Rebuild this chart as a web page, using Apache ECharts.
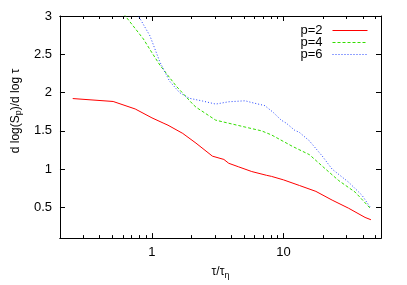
<!DOCTYPE html>
<html><head><meta charset="utf-8">
<script src="https://cdn.jsdelivr.net/npm/echarts@6/dist/echarts.min.js"></script>
<style>html,body{margin:0;padding:0;background:#fff}#c{width:407px;height:285px}</style>
</head><body><div id="c"></div>
<script>
// tau/tau_eta values and d log(S_p)/d log tau values
var tauP2 = [0.25, 0.507, 0.746, 1.0, 1.215, 1.324, 1.714, 2.16, 2.88, 3.52, 3.83, 4.56, 5.73, 7.42, 8.09, 10.0, 13.2, 17.6, 23.4, 31.2, 41.6, 46.1];
var valP2 = [1.922, 1.884, 1.786, 1.67, 1.603, 1.574, 1.467, 1.34, 1.17, 1.127, 1.077, 1.03, 0.969, 0.92, 0.906, 0.86, 0.787, 0.71, 0.596, 0.49, 0.37, 0.34];

var tauP4 = [0.55, 0.628, 0.861, 1.0, 1.148, 1.53, 2.04, 2.16, 3.05, 3.83, 5.1, 6.81, 8.1, 11.7, 15.7, 20.9, 26.3, 35.0, 46.1];
var valP4 = [3.13, 3.0, 2.70, 2.52, 2.36, 2.084, 1.85, 1.81, 1.64, 1.60, 1.55, 1.50, 1.447, 1.297, 1.19, 1.0, 0.85, 0.70, 0.48];

var tauP6 = [0.70, 0.79, 0.966, 1.148, 1.36, 1.62, 1.92, 2.42, 3.05, 3.83, 5.1, 5.73, 7.2, 8.3, 9.6, 10.5, 12.1, 13.2, 15.7, 19.7, 23.4, 31.2, 39.4, 45.3];
var valP6 = [3.16, 3.0, 2.74, 2.40, 2.15, 2.0, 1.926, 1.89, 1.85, 1.88, 1.893, 1.87, 1.83, 1.745, 1.64, 1.60, 1.51, 1.48, 1.37, 1.17, 1.0, 0.83, 0.66, 0.51];

var seriesNames = ['p=2', 'p=4', 'p=6'];
var xMajorTicks = [1, 10];
var xMinorTicks = [0.3, 0.4, 0.5, 0.6, 0.7, 0.8, 0.9, 2, 3, 4, 5, 6, 7, 8, 9, 20, 30, 40, 50];
var yTicks = [0.5, 1, 1.5, 2, 2.5, 3];
var xRange = [0.2, 55];
var yRange = [0.1, 3];

function lg(v){ return Math.log(v) / Math.LN10; }
function pairs(t, v){ return t.map(function(x, i){ return [lg(x), v[i]]; }); }

var font = 'Liberation Sans, Arial, Helvetica, sans-serif';
var ax = {color: '#000', width: 1};
function xAx(pos, ticks, len, labels){
  return {
    type: 'value', position: pos, min: lg(xRange[0]), max: lg(xRange[1]),
    axisLine: {show: true, onZero: false, lineStyle: ax},
    splitLine: {show: false},
    axisTick: {show: true, inside: true, length: len, customValues: ticks.map(lg), lineStyle: ax},
    axisLabel: labels ? {show: true, customValues: ticks.map(lg), margin: 8, color: '#000', fontSize: 13, fontFamily: font,
      formatter: function(v){ return String(Math.round(Math.pow(10, v))); }} : {show: false}
  };
}
function yAx(pos, labels){
  return {
    type: 'value', position: pos, min: yRange[0], max: yRange[1],
    axisLine: {show: true, onZero: false, lineStyle: ax},
    splitLine: {show: false},
    axisTick: {show: true, inside: true, length: 5, customValues: yTicks, lineStyle: ax},
    axisLabel: labels ? {show: true, customValues: yTicks, margin: 8, color: '#000', fontSize: 13, fontFamily: font,
      formatter: function(v){ return String(v); }} : {show: false}
  };
}

var xAxes = [xAx('bottom', xMajorTicks, 5, true), xAx('bottom', xMinorTicks, 3, false),
             xAx('top', xMajorTicks, 5, false), xAx('top', xMinorTicks, 3, false)];
xAxes[0].name = '{n|τ/τ}{s|η}';
xAxes[0].nameLocation = 'middle';
xAxes[0].nameGap = 19;
xAxes[0].nameTextStyle = {color: '#000', fontFamily: font,
  rich: {n: {fontSize: 12, fontFamily: font, color: '#000', verticalAlign: 'top', lineHeight: 14},
         s: {fontSize: 9, fontFamily: font, color: '#000', verticalAlign: 'bottom', lineHeight: 14, padding: [7, 0, 0, 0]}}};

var yAxes = [yAx('left', true), yAx('right', false)];
yAxes[0].name = '{n|d log(S}{s|p}{n|)/d log τ}';
yAxes[0].nameLocation = 'middle';
yAxes[0].nameGap = 36;
yAxes[0].nameRotate = 90;
yAxes[0].nameTextStyle = {color: '#000', fontFamily: font, padding: [0, 0, 0, 32],
  rich: {n: {fontSize: 12, fontFamily: font, color: '#000', lineHeight: 14},
         s: {fontSize: 9, fontFamily: font, color: '#000', lineHeight: 14, padding: [6, 0, 0, 0]}}};

var colors = ['#ff0000', '#33dd00', '#2244ff'];
var dashes = ['solid', [3, 2], [1, 2]];

function ser(i, data){
  return {name: seriesNames[i], type: 'line', data: data, xAxisIndex: 0, yAxisIndex: 0, symbol: 'none', showSymbol: false,
    clip: true, animation: false, lineStyle: {color: colors[i], width: 1, type: dashes[i]}, itemStyle: {color: colors[i]}};
}

var chart = echarts.init(document.getElementById('c'), null, {renderer: 'canvas'});
chart.setOption({
  animation: false,
  backgroundColor: '#fff',
  grid: {left: 55, right: 26, top: 16, bottom: 41, containLabel: false},
  xAxis: xAxes,
  yAxis: yAxes,
  legend: {
    orient: 'vertical', right: 34, top: 19, align: 'right', itemWidth: 35, itemHeight: 8, itemGap: -1,
    textStyle: {fontSize: 13, fontFamily: font, color: '#000', padding: [0, 5, 0, 0]},
    data: seriesNames.map(function(n, i){
      return {name: n, itemStyle: {opacity: 0, color: 'rgba(0,0,0,0)', borderWidth: 0},
        lineStyle: {color: colors[i], width: 1, type: dashes[i], opacity: 1}};
    })
  },
  series: [
    ser(0, pairs(tauP2, valP2)),
    ser(1, pairs(tauP4, valP4)),
    ser(2, pairs(tauP6, valP6))
  ]
});
</script></body></html>
